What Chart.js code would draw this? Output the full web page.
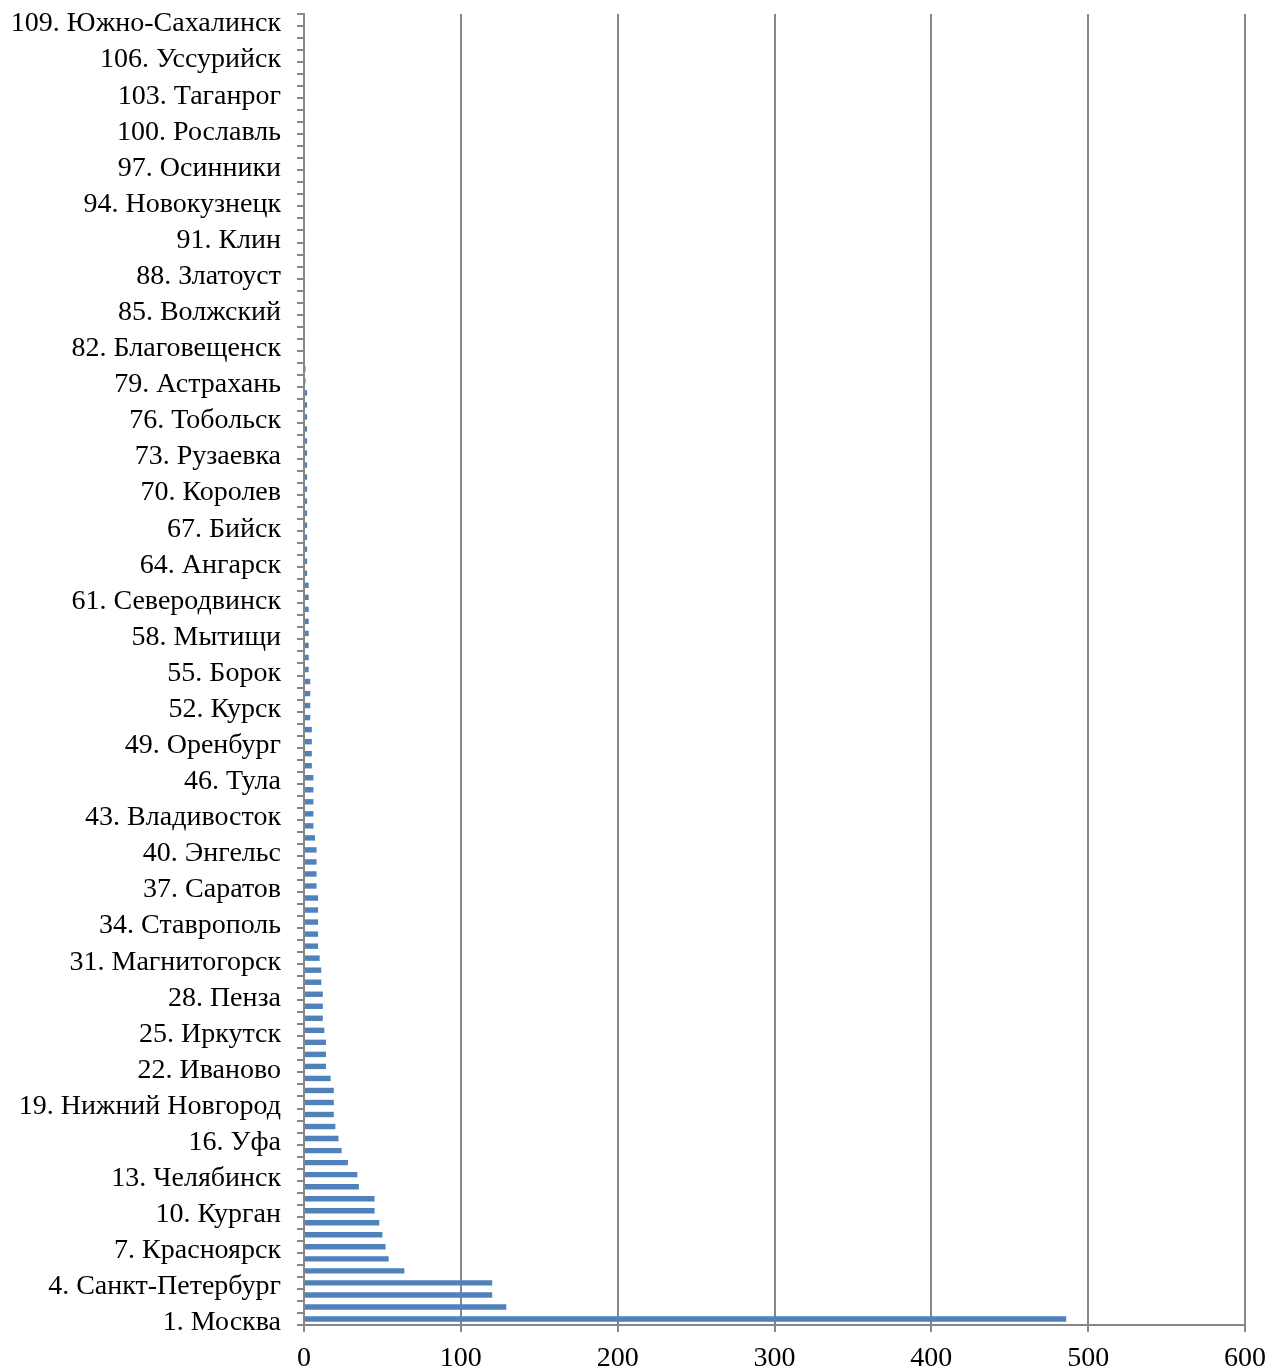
<!DOCTYPE html>
<html>
<head>
<meta charset="utf-8">
<script src="https://cdn.jsdelivr.net/npm/chart.js@4/dist/chart.umd.min.js"></script>
<style>
  body { margin: 0; background: #fff; }
  #wrap { width: 1279px; height: 1371px; }
</style>
</head>
<body>
<div id="wrap"><canvas id="myChart"></canvas></div>
<script>
// shown city names (every 3rd rank: 1, 4, 7 ... 109)
const cityNames = {
  1: 'Москва', 4: 'Санкт-Петербург', 7: 'Красноярск', 10: 'Курган', 13: 'Челябинск',
  16: 'Уфа', 19: 'Нижний Новгород', 22: 'Иваново', 25: 'Иркутск', 28: 'Пенза',
  31: 'Магнитогорск', 34: 'Ставрополь', 37: 'Саратов', 40: 'Энгельс', 43: 'Владивосток',
  46: 'Тула', 49: 'Оренбург', 52: 'Курск', 55: 'Борок', 58: 'Мытищи',
  61: 'Северодвинск', 64: 'Ангарск', 67: 'Бийск', 70: 'Королев', 73: 'Рузаевка',
  76: 'Тобольск', 79: 'Астрахань', 82: 'Благовещенск', 85: 'Волжский', 88: 'Златоуст',
  91: 'Клин', 94: 'Новокузнецк', 97: 'Осинники', 100: 'Рославль', 103: 'Таганрог',
  106: 'Уссурийск', 109: 'Южно-Сахалинск'
}

// values for ranks 1..109
const values = [
  486, 129, 120, 120, 64, 54, 52, 50, 48, 45,
  45, 35, 34, 28, 24, 22, 20, 19, 19, 19,
  17, 14, 14, 14, 13, 12, 12, 12, 11, 11,
  10, 9, 9, 9, 9, 9, 8, 8, 8, 8,
  7, 6, 6, 6, 6, 6, 5, 5, 5, 5,
  4, 4, 4, 4, 3, 3, 3, 3, 3, 3,
  3, 3, 2, 2, 2, 2, 2, 2, 2, 2,
  2, 2, 2, 2, 2, 2, 2, 2, 1, 1,
  0.5, 0.5, 0.5, 0.5, 0.5, 0.5, 0.5, 0.5, 0.5, 0.5,
  0.5, 0.5, 0.5, 0.5, 0.5, 0.5, 0.5, 0.5, 0.5, 0.5,
  0.5, 0.5, 0.5, 0.5, 0.5, 0.5, 0.5, 0.5, 0.5
]

const xTicks = [0, 100, 200, 300, 400, 500, 600]

const labels = values.map((v, i) => {
  const n = i + 1
  return cityNames[n] ? n + '. ' + cityNames[n] : n + '.'
})

const fontMain = { family: "'Liberation Serif', 'Times New Roman', serif", size: 28 }
const gray = '#878787'

const ctx = document.getElementById('myChart').getContext('2d')
new Chart(ctx, {
  type: 'bar',
  data: {
    labels: labels,
    datasets: [{
      data: values,
      backgroundColor: '#4F81BD',
      barPercentage: 0.45,
      categoryPercentage: 1
    }]
  },
  options: {
    indexAxis: 'y',
    responsive: true,
    maintainAspectRatio: false,
    animation: false,
    layout: { padding: { top: 14, right: 34, left: 0, bottom: 0 } },
    plugins: {
      legend: { display: false },
      tooltip: { enabled: false }
    },
    scales: {
      x: {
        min: xTicks[0],
        max: xTicks[xTicks.length - 1],
        afterBuildTicks: scale => { scale.ticks = xTicks.map(v => ({ value: v })) },
        grid: { color: gray, lineWidth: 2, tickLength: 7 },
        border: { color: gray, width: 2 },
        ticks: { color: '#000', font: fontMain, padding: 10, maxRotation: 0 },
        afterFit: scale => {
          scale.height = 46
          scale.paddingLeft = 0
          scale.paddingRight = 0
        }
      },
      y: {
        reverse: true,
        grid: { drawOnChartArea: false, color: gray, lineWidth: 2, tickLength: 7, offset: true },
        border: { color: gray, width: 2 },
        ticks: {
          autoSkip: false,
          color: '#000',
          font: fontMain,
          padding: 16,
          labelOffset: 4,
          callback: function (val, idx) {
            return idx % 3 === 0 ? this.getLabelForValue(val) : ''
          }
        },
        afterFit: scale => {
          scale.width = 304
          scale.paddingTop = 0
          scale.paddingBottom = 0
        }
      }
    }
  }
})
</script>
</body>
</html>
